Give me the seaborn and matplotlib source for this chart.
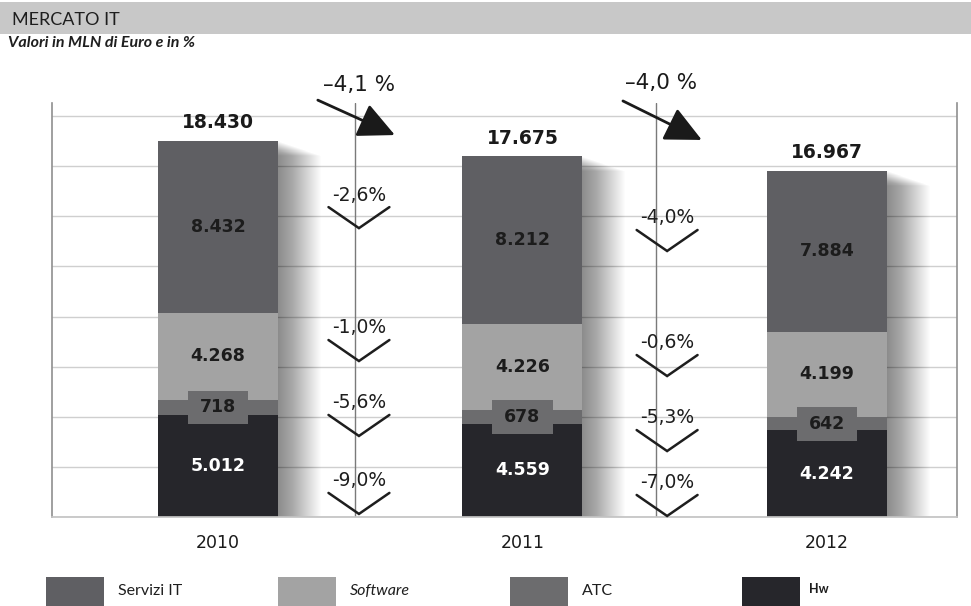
import numpy as np
import pandas as pd
import matplotlib
matplotlib.use("Agg")
import matplotlib.pyplot as plt
from matplotlib import patheffects as pe
from matplotlib.patches import Rectangle
import seaborn as sns

# ---- data (MLN di Euro) ----
YEARS = ["2010", "2011", "2012"]
SEGMENTS = ["Servizi IT", "Software", "ATC", "Hw"]
SERVIZI_IT = [8432, 8212, 7884]
SOFTWARE = [4268, 4226, 4199]
ATC = [718, 678, 642]
HW = [5012, 4559, 4242]

COLORS = {
    "Servizi IT": "#5f5f63",
    "Software": "#a3a3a3",
    "ATC": "#6c6c6e",
    "Hw": "#26262b",
}

# vertical scale: value range shown and grid rows (8 equal bands up to the top rule)
Y_TOP = 20280
GRID_TOP = Y_TOP * 401 / 414

# layout of the year-on-year change markers (y of the chevron tops, data units)
CHEVRON_X = [0.463, 1.475]
CHEVRON_TOPS = [[15180, 8670, 5000, 1180], [14060, 7935, 4260, 1080]]
CHEVRON_DEPTH = 1030

df = pd.DataFrame({"year": YEARS, "Servizi IT": SERVIZI_IT, "Software": SOFTWARE,
                   "ATC": ATC, "Hw": HW})
df["c_hw"] = df["Hw"]
df["c_atc"] = df["c_hw"] + df["ATC"]
df["c_sw"] = df["c_atc"] + df["Software"]
df["total"] = df["c_sw"] + df["Servizi IT"]


def fmt_it(v):
    return f"{int(v):,}".replace(",", ".")


def fmt_pct(p, sep=""):
    return f"{p:.1f}".replace(".", ",") + sep + "%"


sns.set_theme(style="white")
plt.rcParams["font.family"] = ["DejaVu Sans"]

W, H = 971, 606
fig = plt.figure(figsize=(W / 100, H / 100), dpi=100)
fig.patch.set_facecolor("white")
ax = fig.add_axes([52 / W, 1 - 517 / H, (957 - 52) / W, (517 - 103) / H])

BAR_W = 0.394
# stacked bars drawn back to front as cumulative heights
layers = [("total", "Servizi IT"), ("c_sw", "Software"), ("c_atc", "ATC"), ("c_hw", "Hw")]
shadow = [pe.SimplePatchShadow(offset=(k * 0.72, -k * 0.25), shadow_rgbFace="#000000",
                               alpha=0.012) for k in range(1, 44)] + [pe.Normal()]
for i, (col, seg) in enumerate(layers):
    n_before = len(ax.patches)
    sns.barplot(data=df, x="year", y=col, order=YEARS, color=COLORS[seg],
                saturation=1, width=BAR_W, errorbar=None, edgecolor="none",
                linewidth=0, ax=ax)
    if i == 0:
        for p in ax.patches[n_before:]:
            p.set_path_effects(shadow)

ax.set_xlim(-0.545, 2.427)
ax.set_ylim(0, Y_TOP)
ax.set_yticks(np.linspace(0, GRID_TOP, 9))
ax.yaxis.grid(True, color="#cfcfcf", lw=1.0)
ax.set_axisbelow(True)
ax.tick_params(axis="y", left=False, labelleft=False)
ax.tick_params(axis="x", length=0, pad=12, labelsize=12.5, labelcolor="#1a1a1a")
ax.set_xlabel("")
ax.set_ylabel("")
for s in ["left", "right"]:
    ax.spines[s].set_color("#8f8f8f")
    ax.spines[s].set_linewidth(1.2)
ax.spines["bottom"].set_color("#c4c4c4")
ax.spines["top"].set_visible(False)

# separators between years
for xs in [0.45, 1.44]:
    ax.axvline(xs, color="#7a7a7a", lw=1.0, zorder=1.5)

# value labels
for i in range(len(YEARS)):
    hw, atc, sw, tot = df.loc[i, ["c_hw", "c_atc", "c_sw", "total"]]
    ax.text(i, tot + 420, fmt_it(tot), ha="center", va="bottom", fontsize=13.5,
            weight="bold", color="#1a1a1a", zorder=4)
    ax.text(i, (sw + tot) / 2, fmt_it(SERVIZI_IT[i]), ha="center", va="center",
            fontsize=12.5, weight="bold", color="#1c1c1c", zorder=4)
    ax.text(i, (atc + sw) / 2, fmt_it(SOFTWARE[i]), ha="center", va="center",
            fontsize=12.5, weight="bold", color="#1c1c1c", zorder=4)
    mid_atc = (hw + atc) / 2
    ax.add_patch(Rectangle((i - 0.1, mid_atc - 820), 0.2, 1640,
                           facecolor=COLORS["ATC"], edgecolor="none", zorder=3))
    ax.text(i, mid_atc, fmt_it(ATC[i]), ha="center", va="center",
            fontsize=12.5, weight="bold", color="#1c1c1c", zorder=4)
    ax.text(i, hw / 2, fmt_it(HW[i]), ha="center", va="center",
            fontsize=12.5, weight="bold", color="white", zorder=4)

# year-on-year changes per segment (chevrons)
series = [SERVIZI_IT, SOFTWARE, ATC, HW]
for j in range(len(YEARS) - 1):
    cx = CHEVRON_X[j]
    for k, vals in enumerate(series):
        pct = (vals[j + 1] - vals[j]) / vals[j] * 100
        top = CHEVRON_TOPS[j][k]
        ax.plot([cx - 0.1, cx, cx + 0.1], [top, top - CHEVRON_DEPTH, top],
                color="#1e1e1e", lw=1.8, solid_joinstyle="miter", zorder=4,
                clip_on=False)
        ax.text(cx, top + 590, fmt_pct(pct), ha="center", va="center",
                fontsize=13.5, color="#1e1e1e", zorder=4)

# total change with arrows
totals = df["total"].tolist()
arrow_tails = [(0.328, 20420), (1.330, 20380)]
arrow_tips = [(0.581, 18710), (1.589, 18470)]
label_pos = [(0.465, 21160), (1.456, 21260)]
for j in range(len(YEARS) - 1):
    pct = (totals[j + 1] - totals[j]) / totals[j] * 100
    ax.annotate("", xy=arrow_tips[j], xytext=arrow_tails[j], annotation_clip=False,
                arrowprops=dict(arrowstyle="-|>,head_length=0.75,head_width=0.36",
                                mutation_scale=30, lw=2.0, color="#1a1a1a",
                                shrinkA=0, shrinkB=0), zorder=5)
    ax.text(*label_pos[j], fmt_pct(pct, " ").replace("-", "\u2013"), ha="center",
            va="center", fontsize=15.5, color="#1a1a1a", zorder=5, clip_on=False)

# title band
fig.patches.append(Rectangle((0, 1 - 34 / H), 1, 32 / H, transform=fig.transFigure,
                             facecolor="#c8c8c8", edgecolor="none", zorder=0))
fig.text(12 / W, 1 - 20 / H, "MERCATO IT", family=["Lato", "DejaVu Sans"],
         fontsize=13, color="#1e1e1e", va="center", ha="left")
fig.text(8 / W, 1 - 43 / H, "Valori in MLN di Euro e in %", family=["Lato", "DejaVu Sans"],
         style="italic", weight="bold", fontsize=11.5, color="#1e1e1e", va="center",
         ha="left")

# legend
leg_x = [46, 278, 510, 742]
for seg, x0 in zip(SEGMENTS, leg_x):
    fig.patches.append(Rectangle((x0 / W, 0), 58 / W, (H - 577) / H,
                                 transform=fig.transFigure, facecolor=COLORS[seg],
                                 edgecolor="none"))
    kw = dict(family=["Lato", "DejaVu Sans"], color="#1e1e1e", va="center", ha="left")
    if seg == "Hw":
        fig.text((x0 + 67) / W, 1 - 589 / H, seg, fontsize=9, weight="bold", **kw)
    elif seg == "Software":
        fig.text((x0 + 72) / W, 1 - 591 / H, seg, fontsize=11.5, style="italic", **kw)
    else:
        fig.text((x0 + 72) / W, 1 - 591 / H, seg, fontsize=11.5, **kw)

fig.savefig("out.png", dpi=100)
